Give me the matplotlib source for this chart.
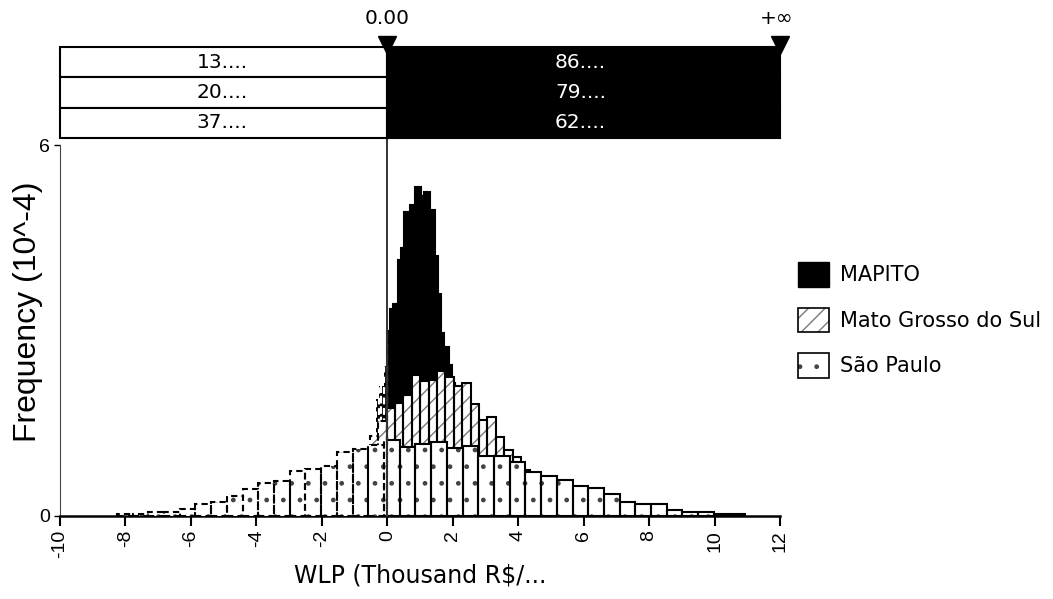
#!/usr/bin/env python3
import numpy as np
import matplotlib.pyplot as plt
from matplotlib.patches import Patch, Rectangle
from matplotlib.legend_handler import HandlerTuple

plt.rcParams['hatch.linewidth'] = 1.0
plt.rcParams['axes.unicode_minus'] = False

# Series names (legend order)
series = ['MAPITO', 'Mato Grosso do Sul', 'São Paulo']

# Histograms: first bin edge, bin width, frequency (10^-4)
mapito_start = -0.35
mapito_width = 0.0865
mapito_freq = [1.90, 2.10, 2.10, 2.42, 3.00, 3.35, 3.43, 3.43, 4.14, 4.34,
               4.92, 4.92, 5.03, 4.90, 5.32, 5.32, 5.18, 5.24, 5.24, 4.95,
               4.95, 4.21, 3.59, 2.96, 2.74, 2.74, 2.45, 2.15, 1.85, 1.60,
               1.35, 1.10, 0.90, 0.70, 0.50, 0.35, 0.20, 0.10]

mgs_start = -6.19
mgs_width = 0.257
mgs_freq = [0.01, 0.02, 0.02, 0.03, 0.04, 0.05, 0.06, 0.08, 0.10, 0.13,
            0.16, 0.20, 0.25, 0.30, 0.36, 0.42, 0.50, 0.60, 0.70, 0.80,
            0.90, 1.05, 1.30, 1.53, 1.75, 1.82, 1.96, 2.28, 2.19, 2.20,
            2.35, 2.25, 2.10, 2.15, 1.81, 1.55, 1.60, 1.27, 1.07, 0.95,
            0.74, 0.62, 0.55, 0.48, 0.40, 0.35, 0.29, 0.24, 0.20, 0.17,
            0.14, 0.11, 0.09, 0.07, 0.06, 0.05, 0.04, 0.03, 0.03, 0.02,
            0.02, 0.01, 0.01, 0.01]

sp_start = -8.26
sp_width = 0.48
sp_freq = [0.03, 0.04, 0.07, 0.07, 0.11, 0.20, 0.23, 0.32, 0.43, 0.53,
           0.57, 0.72, 0.76, 0.81, 1.04, 1.08, 1.15, 1.23, 1.12, 1.17,
           1.20, 1.10, 1.13, 0.97, 0.97, 0.87, 0.71, 0.65, 0.58, 0.49,
           0.46, 0.36, 0.23, 0.19, 0.19, 0.10, 0.07, 0.07, 0.04, 0.04]

# Delimiter table (% below / above 0.00)
pct_left = ['13....', '20....', '37....']
pct_right = ['86....', '79....', '62....']
delim_x = [0.0, 12.0]
delim_labels = ['0.00', '+\u221e']

W, H = 1053, 599
fig = plt.figure(figsize=(W / 100, H / 100), dpi=100)
ax = fig.add_axes([60 / W, 83 / H, 720 / W, 371 / H])


def draw_hist(start, width, freq, face, hatch, hatch_col, z, dash_col):
    freq = np.asarray(freq)
    lefts = start + width * np.arange(len(freq))
    rights = lefts + width
    lo = lefts < 0
    hi = rights > 0
    parts = [
        (lefts[lo], np.minimum(rights[lo], 0), freq[lo], (0, (3, 2)), dash_col),
        (np.maximum(lefts[hi], 0), rights[hi], freq[hi], '-', 'black'),
    ]
    for l, r, h, ls, ec in parts:
        ax.bar(l, h, width=r - l, align='edge', color=face, edgecolor=hatch_col,
               hatch=hatch, linewidth=0, zorder=z)
        ax.bar(l, h, width=r - l, align='edge', fill=False, edgecolor=ec,
               linewidth=1.5, linestyle=ls, zorder=z + 0.1)


draw_hist(mapito_start, mapito_width, mapito_freq, 'black', None, 'black', 2, 'white')
draw_hist(mgs_start, mgs_width, mgs_freq, 'white', '//', '#7a7a7a', 3, 'black')
draw_hist(sp_start, sp_width, sp_freq, 'white', '.', '#444444', 4, 'black')

# delimiter line at 0.00
ax.plot([0, 0], [0, 6.15], color='#333333', lw=1.4, zorder=6, clip_on=False)

ax.set_xlim(-10, 12)
ax.set_ylim(0, 6)
ax.set_xticks(range(-10, 13, 2))
ax.set_yticks([0, 6])
ax.spines['top'].set_visible(False)
ax.spines['right'].set_visible(False)
ax.spines['bottom'].set_linewidth(1.8)
ax.spines['left'].set_linewidth(0.8)
ax.spines['left'].set_color('#444444')
ax.tick_params(axis='x', direction='out', length=7, width=1.5, labelsize=14,
               labelrotation=90, pad=3)
ax.tick_params(axis='y', direction='out', length=4, width=1, labelsize=14, pad=3)
for lab in ax.get_xticklabels() + ax.get_yticklabels():
    lab.set_fontfamily('Liberation Sans')

ax.set_xlabel('WLP (Thousand R$/...', fontsize=17, family='DejaVu Sans', labelpad=4)
ax.set_ylabel('Frequency (10^-4)', fontsize=23, family='Liberation Sans')
ax.yaxis.set_label_coords(-0.024, 0.55)

# legend
leg_handles = [
    Patch(facecolor='black', edgecolor='black'),
    (Patch(facecolor='white', edgecolor='#7a7a7a', hatch='//', linewidth=0),
     Patch(fill=False, edgecolor='black', linewidth=1.2)),
    (Patch(facecolor='white', edgecolor='#444444', hatch='.', linewidth=0),
     Patch(fill=False, edgecolor='black', linewidth=1.2)),
]
fig.legend(leg_handles, series, loc='upper left',
           bbox_to_anchor=(798 / W, 1 - 262 / H), frameon=False,
           handlelength=1.5, handleheight=1.45, handletextpad=0.5,
           labelspacing=1.0, borderpad=0, borderaxespad=0,
           prop={'family': 'DejaVu Sans', 'size': 15},
           handler_map={tuple: HandlerTuple(ndivide=1)})

# delimiter table on top
ax_t = fig.add_axes([60 / W, 1 - 138 / H, 722 / W, 91 / H])
ax_t.set_xlim(-10, 12.06)
ax_t.set_ylim(0, 3)
ax_t.axis('off')
for i in range(3):
    y0 = 2 - i
    ax_t.add_patch(Rectangle((-10, y0), 10, 1, facecolor='white',
                             edgecolor='black', lw=1.5, clip_on=False))
    ax_t.add_patch(Rectangle((0, y0), 12, 1, facecolor='black',
                             edgecolor='black', lw=1.5, clip_on=False))
    ax_t.text(-5.05, y0 + 0.5, pct_left[i], ha='center', va='center',
              fontsize=14.5, color='black')
    ax_t.text(5.9, y0 + 0.5, pct_right[i], ha='center', va='center',
              fontsize=14.5, color='white')
ax_t.plot(delim_x, [3.07, 3.07], 'v', color='black', ms=13, clip_on=False)
for xd, lab in zip(delim_x, delim_labels):
    ax_t.text(xd - (0.1 if xd > 0 else 0), 3.95, lab, ha='center', va='center',
              fontsize=14.5)

fig.savefig('out.png', dpi=100)
